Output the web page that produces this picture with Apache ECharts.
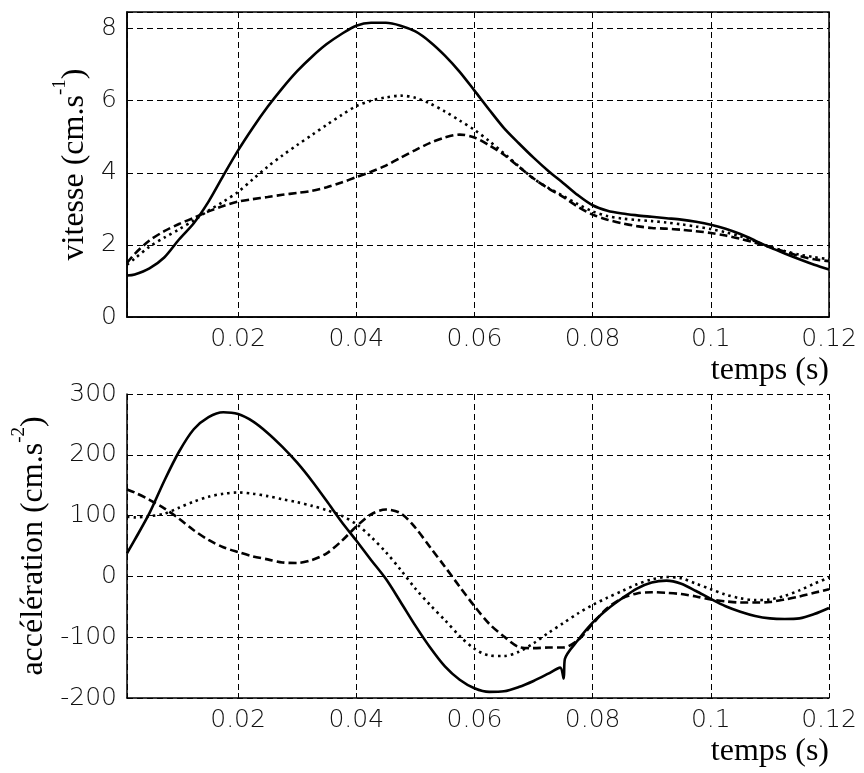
<!DOCTYPE html>
<html><head><meta charset="utf-8">
<script src="https://cdn.jsdelivr.net/npm/echarts@6/dist/echarts.min.js"></script>
<style>html,body{margin:0;padding:0;background:#fff}#c{width:864px;height:773px}</style>
</head><body><div id="c"></div>
<script>
// ---- sampling times (s) ----
const timeGrid = [0.0012, 0.0025, 0.005, 0.0075, 0.01, 0.0125, 0.015, 0.0175, 0.02, 0.0225, 0.025, 0.0275, 0.03, 0.0325, 0.035, 0.0375, 0.04, 0.0425, 0.045, 0.0475, 0.05, 0.0525, 0.055, 0.0575, 0.06, 0.0625, 0.065, 0.0675, 0.07, 0.0725, 0.075, 0.0775, 0.08, 0.0825, 0.085, 0.0875, 0.09, 0.0925, 0.095, 0.0975, 0.1, 0.1025, 0.105, 0.1075, 0.11, 0.1125, 0.115, 0.1175, 0.12];

// ---- top panel: vitesse (cm.s-1) ----
const vSolid  = [1.15, 1.18, 1.35, 1.65, 2.15, 2.6, 3.2, 3.92, 4.62, 5.25, 5.83, 6.35, 6.82, 7.22, 7.57, 7.85, 8.08, 8.16, 8.16, 8.08, 7.92, 7.63, 7.25, 6.8, 6.28, 5.75, 5.24, 4.82, 4.42, 4.05, 3.72, 3.38, 3.1, 2.95, 2.87, 2.82, 2.78, 2.74, 2.7, 2.64, 2.56, 2.45, 2.3, 2.12, 1.93, 1.76, 1.6, 1.45, 1.32];
const vDotted = [1.45, 1.62, 1.95, 2.2, 2.43, 2.68, 2.95, 3.2, 3.47, 3.82, 4.17, 4.48, 4.77, 5.05, 5.33, 5.6, 5.85, 6.0, 6.09, 6.14, 6.08, 5.92, 5.7, 5.45, 5.19, 4.88, 4.54, 4.18, 3.84, 3.58, 3.36, 3.13, 2.93, 2.8, 2.73, 2.69, 2.66, 2.62, 2.57, 2.51, 2.44, 2.35, 2.24, 2.1, 1.95, 1.83, 1.73, 1.66, 1.6];
const vDashed = [1.5, 1.75, 2.12, 2.38, 2.58, 2.75, 2.93, 3.08, 3.2, 3.27, 3.33, 3.39, 3.44, 3.5, 3.6, 3.73, 3.88, 4.03, 4.2, 4.42, 4.63, 4.83, 4.98, 5.06, 4.98, 4.76, 4.5, 4.17, 3.84, 3.57, 3.33, 3.06, 2.84, 2.7, 2.6, 2.52, 2.47, 2.45, 2.42, 2.38, 2.33, 2.26, 2.17, 2.06, 1.94, 1.81, 1.69, 1.6, 1.55];

// ---- bottom panel: accélération (cm.s-2) ----
const timeASolid = [0.0012, 0.0025, 0.005, 0.0075, 0.01, 0.0125, 0.015, 0.0175, 0.02, 0.0225, 0.025, 0.0275, 0.03, 0.0325, 0.035, 0.0375, 0.04, 0.0425, 0.045, 0.0475, 0.05, 0.0525, 0.055, 0.0575, 0.06, 0.0625, 0.065, 0.0675, 0.07, 0.0725, 0.0745, 0.0751, 0.0753, 0.0775, 0.08, 0.0825, 0.085, 0.0875, 0.09, 0.0925, 0.095, 0.0975, 0.1, 0.1025, 0.105, 0.1075, 0.11, 0.1125, 0.115, 0.1175, 0.12];
const aSolid  = [38, 60, 104, 157, 205, 242, 262, 270, 267, 255, 236, 213, 187, 157, 124, 90, 59, 27, -4, -42, -81, -117, -148, -170, -184, -190, -189, -182, -172, -160, -150, -168, -136, -105, -76, -54, -36, -20, -10, -7, -12, -24, -37, -49, -58, -65, -69, -70, -69, -62, -52];
const aDotted = [98, 97, 99, 103, 113, 123, 131, 136, 138, 136, 132, 127, 122, 116, 109, 100, 86, 65, 40, 11, -20, -47, -72, -98, -119, -130, -131, -124, -110, -93, -77, -61, -47, -35, -24, -13, -5, -1, -3, -12, -21, -30, -36, -39, -38, -32, -23, -12, -2];
const aDashed = [143, 138, 126, 112, 95, 76, 60, 48, 40, 33, 28, 23, 22, 27, 38, 58, 82, 102, 110, 104, 80, 48, 16, -17, -49, -78, -99, -116, -118, -117, -117, -105, -78, -52, -36, -28, -26, -27, -29, -33, -38, -41, -43, -43, -42, -38, -33, -27, -21];

const xTickLabels = ['0.02', '0.04', '0.06', '0.08', '0.1', '0.12'];
const vTickLabels = ['0', '2', '4', '6', '8'];
const aTickLabels = ['-200', '-100', '0', '100', '200', '300'];

function pairs(t, v) { return t.map((x, i) => [x, v[i]]); }

const tickFont = { fontFamily: 'DejaVu Sans', fontSize: 25, fontWeight: 200, color: '#111' };
const serif = 'Liberation Serif';
const gridLine = { show: true, lineStyle: { color: '#000', width: 1, type: [6, 4] } };

function xAxis(gi) {
  return {
    type: 'value', gridIndex: gi, min: 0.0012, max: 0.12, splitNumber: 6,
    axisLine: { show: true, onZero: false, lineStyle: { color: '#000', width: 1.5 } },
    axisTick: { show: true, inside: true, length: 5, lineStyle: { color: '#000' } },
    splitLine: gridLine,
    axisLabel: Object.assign({ margin: 10, showMinLabel: true, showMaxLabel: true,
      formatter: function (v) {
        const k = Math.round(v / 0.02);
        if (k < 1 || Math.abs(v - k * 0.02) > 1e-6) return '';
        return xTickLabels[k - 1];
      } }, tickFont),
    name: 'temps (s)', nameLocation: 'end', nameGap: 0,
    nameTextStyle: { fontFamily: serif, fontSize: 32, color: '#000', align: 'right', verticalAlign: 'top', padding: [38, 0, 0, 0] }
  };
}

function yName(text, sup) {
  return '{a|' + text + '}{b|' + sup + '}{a|)}';
}
const nameRich = {
  a: { fontFamily: serif, fontSize: 32, color: '#000', verticalAlign: 'bottom', lineHeight: 40 },
  b: { fontFamily: serif, fontSize: 19, color: '#000', verticalAlign: 'top', lineHeight: 20 }
};

function yAxis(gi, min, max, interval, labels, name) {
  return {
    type: 'value', gridIndex: gi, min: min, max: max, interval: interval,
    axisLine: { show: true, lineStyle: { color: '#000', width: 1.5 } },
    axisTick: { show: true, inside: true, length: 5, lineStyle: { color: '#000' } },
    splitLine: gridLine,
    axisLabel: Object.assign({ margin: 10, formatter: function (v) {
      const k = Math.round((v - min) / interval);
      if (Math.abs(v - (min + k * interval)) > 1e-6) return '';
      return labels[k] || '';
    } }, tickFont),
    name: name, nameLocation: 'middle', nameGap: 20, nameRotate: 90,
    nameTextStyle: { rich: nameRich }
  };
}

const option = {
  animation: false,
  backgroundColor: '#fff',
  grid: [
    { left: 127, top: 12, width: 702, height: 305, show: true, borderColor: '#000', borderWidth: 1.5, backgroundColor: 'transparent' },
    { left: 127, top: 394, width: 702, height: 304 }
  ],
  xAxis: [xAxis(0), xAxis(1)],
  yAxis: [
    yAxis(0, 0, 8.46, 2, vTickLabels, yName('vitesse (cm.s', '-1')),
    yAxis(1, -200, 300, 100, aTickLabels, yName('accélération (cm.s', '-2'))
  ],
  series: [
    { type: 'line', xAxisIndex: 0, yAxisIndex: 0, data: pairs(timeGrid, vSolid), showSymbol: false, smooth: 0.3, lineStyle: { color: '#000', width: 2.6, type: 'solid' } },
    { type: 'line', xAxisIndex: 0, yAxisIndex: 0, data: pairs(timeGrid, vDotted), showSymbol: false, smooth: 0.3, lineStyle: { color: '#000', width: 2.6, type: [2.5, 4] } },
    { type: 'line', xAxisIndex: 0, yAxisIndex: 0, data: pairs(timeGrid, vDashed), showSymbol: false, smooth: 0.3, lineStyle: { color: '#000', width: 2.6, type: [8, 4] } },
    { type: 'line', xAxisIndex: 1, yAxisIndex: 1, data: pairs(timeASolid, aSolid), showSymbol: false, smooth: 0.3, lineStyle: { color: '#000', width: 2.6, type: 'solid' } },
    { type: 'line', xAxisIndex: 1, yAxisIndex: 1, data: pairs(timeGrid, aDotted), showSymbol: false, smooth: 0.3, lineStyle: { color: '#000', width: 2.6, type: [2.5, 4] } },
    { type: 'line', xAxisIndex: 1, yAxisIndex: 1, data: pairs(timeGrid, aDashed), showSymbol: false, smooth: 0.3, lineStyle: { color: '#000', width: 2.6, type: [8, 4] } }
  ]
};
const chart = echarts.init(document.getElementById('c'), null, { renderer: 'canvas' });
chart.setOption(option);
</script></body></html>
